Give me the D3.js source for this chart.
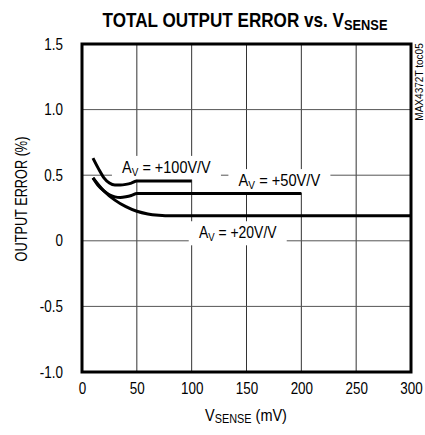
<!DOCTYPE html>
<html><head><meta charset="utf-8">
<script src="https://cdn.jsdelivr.net/npm/d3@7"></script>
<style>body{margin:0;background:#fff;}svg{display:block;}</style>
</head><body>
<svg id="chart" width="425" height="435"></svg>
<script>
const xTicks = [0, 50, 100, 150, 200, 250, 300];
const yTicks = [-1.0, -0.5, 0, 0.5, 1.0, 1.5];
const yTickLabels = ["-1.0", "-0.5", "0", "0.5", "1.0", "1.5"];

const vs100 = [10, 15, 20, 25, 30, 35, 40, 45, 50, 100];
const err100 = [0.63, 0.55, 0.48, 0.44, 0.425, 0.425, 0.43, 0.44, 0.455, 0.455];
const vs50 = [10, 15, 20, 25, 30, 35, 40, 45, 50, 200];
const err50 = [0.48, 0.42, 0.38, 0.35, 0.335, 0.33, 0.335, 0.345, 0.36, 0.36];
const vs20 = [10, 20, 30, 40, 50, 60, 70, 80, 300];
const err20 = [0.48, 0.38, 0.31, 0.26, 0.225, 0.205, 0.195, 0.19, 0.19];

const gains = ["+100V/V", "+50V/V", "+20V/V"];
const labelX = [77, 180, 142];
const labelY = [0.52, 0.42, 0.02];

const FONT = "'Liberation Sans',Arial,Helvetica,sans-serif";
const SQ = 0.84; // horizontal squeeze to mimic condensed Helvetica
const svg = d3.select("#chart");
const L = 82, R = 411, T = 44, B = 372;
const x = d3.scaleLinear().domain([0, 300]).range([L, R]);
const y = d3.scaleLinear().domain([-1.0, 1.5]).range([B, T]);

function squeeze(sel, s, px) {
  sel.each(function () {
    const p = px !== undefined ? px : (+this.getAttribute("x") || 0);
    const prev = this.getAttribute("transform") || "";
    this.setAttribute("transform", `${prev} translate(${p},0) scale(${s},1) translate(${-p},0)`);
  });
}
function fitWidth(sel, target, px) {
  const w = sel.node().getBBox().width;
  squeeze(sel, target / w, px);
}

// Title
const title = svg.append("text").attr("x", 245).attr("y", 27).attr("text-anchor", "middle")
  .attr("font-family", FONT).attr("font-weight", "bold").attr("font-size", 20).attr("fill", "#000");
title.append("tspan").text("TOTAL OUTPUT ERROR vs. V");
title.append("tspan").attr("font-size", 15).attr("dy", 3).text("SENSE");
fitWidth(title, 285, 245);

// Gridlines
const g = svg.append("g");
g.selectAll(".vx").data(xTicks.slice(1, -1)).join("line")
  .attr("x1", d => x(d)).attr("x2", d => x(d)).attr("y1", T).attr("y2", B)
  .attr("stroke", "#333").attr("stroke-width", 1);
g.selectAll(".hy").data(yTicks.slice(1, -1)).join("line")
  .attr("x1", L).attr("x2", R).attr("y1", d => y(d)).attr("y2", d => y(d))
  .attr("stroke", "#555").attr("stroke-width", 1);

// Axes (tick labels only)
const xAxis = d3.axisBottom(x).tickValues(xTicks).tickSize(0).tickPadding(11).tickFormat(d3.format("d"));
const xg = svg.append("g").attr("transform", `translate(0,${B})`).call(xAxis);
xg.select(".domain").remove();
xg.selectAll("text").attr("font-family", FONT).attr("font-size", 16).attr("fill", "#000");
squeeze(xg.selectAll("text"), SQ, 0);

const yAxis = d3.axisLeft(y).tickValues(yTicks).tickSize(0).tickPadding(19).tickFormat((d, i) => yTickLabels[i]);
const yg = svg.append("g").attr("transform", `translate(${L},0)`).call(yAxis);
yg.select(".domain").remove();
yg.selectAll("text").attr("font-family", FONT).attr("font-size", 16).attr("fill", "#000");
squeeze(yg.selectAll("text"), SQ, -19);

// Labels with white background
const labelW = [89, 82, 78];
gains.forEach((gain, i) => {
  const grp = svg.append("g");
  const cx = x(labelX[i]);
  const t = grp.append("text").attr("x", cx).attr("y", y(labelY[i]))
    .attr("text-anchor", "middle").attr("font-family", FONT).attr("font-size", 16).attr("fill", "#000");
  t.append("tspan").text("A");
  t.append("tspan").attr("font-size", 11).attr("dy", 3).text("V");
  t.append("tspan").attr("dy", -3).text(" = " + gain);
  fitWidth(t, labelW[i], cx);
  const bb = t.node().getBBox();
  const w = labelW[i];
  grp.insert("rect", "text").attr("x", cx - w / 2 - 10).attr("y", bb.y - 2)
    .attr("width", w + 20).attr("height", bb.height + 4).attr("fill", "#fff");
});

// Curves
const line = d3.line().x(d => x(d[0])).y(d => y(d[1])).curve(d3.curveMonotoneX);
[[vs100, err100], [vs50, err50], [vs20, err20]].forEach(([xs, ys]) => {
  svg.append("path").datum(xs.map((v, i) => [v, ys[i]]))
    .attr("d", line).attr("fill", "none").attr("stroke", "#000").attr("stroke-width", 3);
});

// Border
svg.append("rect").attr("x", L).attr("y", T).attr("width", R - L).attr("height", B - T)
  .attr("fill", "none").attr("stroke", "#000").attr("stroke-width", 3);

// Axis titles
const xt = svg.append("text").attr("x", 246).attr("y", 421).attr("text-anchor", "middle")
  .attr("font-family", FONT).attr("font-size", 16).attr("fill", "#000");
xt.append("tspan").text("V");
xt.append("tspan").attr("font-size", 12).attr("dy", 2).text("SENSE");
xt.append("tspan").attr("dy", -2).text(" (mV)");
fitWidth(xt, 82, 246);

const yt = svg.append("text").attr("x", 0).attr("y", 0).attr("text-anchor", "middle")
  .attr("font-family", FONT).attr("font-size", 16).attr("fill", "#000")
  .text("OUTPUT ERROR (%)");
fitWidth(yt, 125, 0);
yt.attr("transform", `translate(27,199) rotate(-90) ` + yt.attr("transform"));

const st = svg.append("text").attr("x", 0).attr("y", 0).attr("text-anchor", "middle")
  .attr("font-family", FONT).attr("font-size", 10).attr("fill", "#000")
  .text("MAX4372T toc05");
fitWidth(st, 78, 0);
st.attr("transform", `translate(423,82) rotate(-90) ` + st.attr("transform"));
</script>
</body></html>
